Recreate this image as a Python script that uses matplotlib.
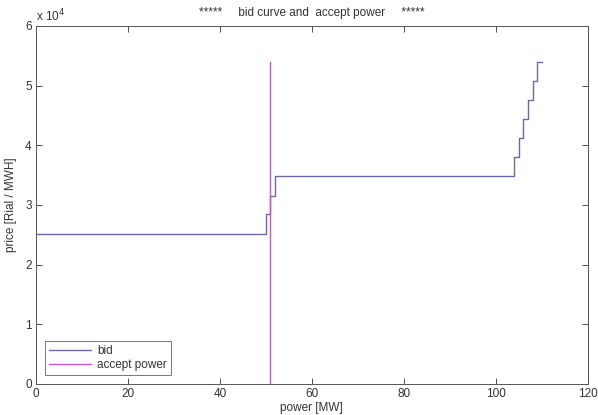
import numpy as np
import matplotlib.pyplot as plt

plt.rcParams['font.family'] = ['Liberation Sans', 'DejaVu Sans']

# bid curve (step, post)
bid_x = [0, 50, 51, 52, 104, 105, 106, 107, 108, 109, 110]
bid_y = [2.52e4, 2.85e4, 3.15e4, 3.48e4, 3.80e4, 4.12e4, 4.44e4, 4.76e4, 5.08e4, 5.40e4, 5.40e4]
# accepted power
accept_x = [51, 51]
accept_y = [0, 5.4e4]

xticks = [0, 20, 40, 60, 80, 100, 120]
yticks = [0, 1e4, 2e4, 3e4, 4e4, 5e4, 6e4]

fig = plt.figure(figsize=(5.98, 4.15), dpi=100)
ax = fig.add_axes([0.060, 0.0747, 0.923, 0.863])

ax.step(bid_x, bid_y, where='post', color='#6a6aaa', lw=1.0, label='bid')
ax.plot(accept_x, accept_y, color='#d050d0', lw=1.0, label='accept power')

ax.set_xlim(0, 120)
ax.set_ylim(0, 6e4)
ax.set_xticks(xticks)
ax.set_yticks(yticks)
ax.set_yticklabels([str(int(v / 1e4)) for v in yticks])
ax.tick_params(direction='in', top=True, right=True, labelsize=8.5,
               colors='#333333', length=4, width=0.6, pad=3)
for s in ax.spines.values():
    s.set_color('#555555')
    s.set_linewidth(0.7)

ax.text(0.0, 1.005, r'x 10$^4$', transform=ax.transAxes, fontsize=8.5,
        color='#333333', va='bottom', ha='left')
ax.set_title('*****     bid curve and  accept power     *****', fontsize=8.5,
             color='#333333', pad=7)
ax.set_xlabel('power [MW]', fontsize=8.5, color='#333333', labelpad=1)
ax.set_ylabel('price [Rial / MWH]', fontsize=8.5, color='#333333', labelpad=6)

leg = ax.legend(loc='lower left', fontsize=8.5, frameon=True, fancybox=False,
                borderaxespad=0.8, handlelength=3.6, borderpad=0.3,
                labelspacing=0.2, handletextpad=0.5)
leg.get_frame().set_edgecolor('#555555')
leg.get_frame().set_linewidth(0.7)
for t in leg.get_texts():
    t.set_color('#333333')

fig.savefig('out.png', dpi=100)
